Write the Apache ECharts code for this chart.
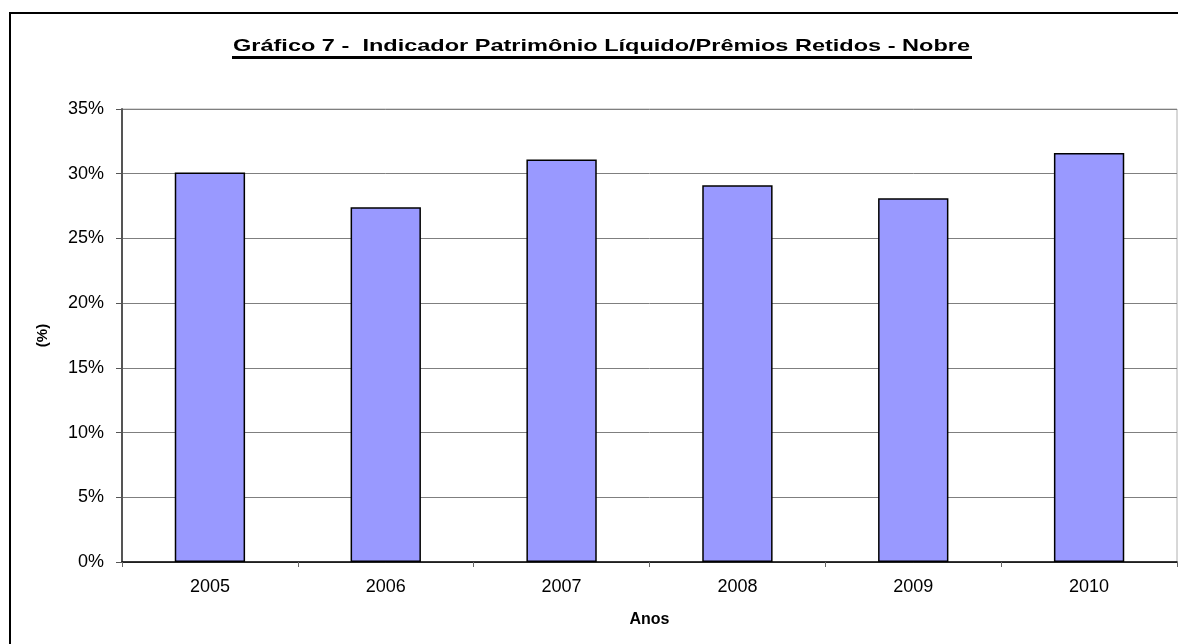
<!DOCTYPE html>
<html>
<head>
<meta charset="utf-8">
<script src="https://cdn.jsdelivr.net/npm/echarts@6/dist/echarts.min.js"></script>
<style>
html,body{margin:0;padding:0;background:#fff;}
#c{width:1178px;height:644px;}
</style>
</head>
<body>
<div id="c"></div>
<script>
var categories = ['2005','2006','2007','2008','2009','2010'];
var values = [30.1, 27.4, 31.1, 29.1, 28.1, 31.6];
var yTicks = [0,5,10,15,20,25,30,35];
var titleText = 'Gráfico 7 -  Indicador Patrimônio Líquido/Prêmios Retidos - Nobre';

var FONT = '"Liberation Sans", Arial, sans-serif';
var chart = echarts.init(document.getElementById('c'));

// measure title to stretch it to the reference width
var ctx = document.createElement('canvas').getContext('2d');
ctx.font = 'bold 17px ' + FONT;
var tw = ctx.measureText(titleText).width;
var sx = 737 / tw;

chart.setOption({
  animation: false,
  backgroundColor: '#fff',
  graphic: [
    { type: 'rect', shape: { x: 10, y: 13, width: 1200, height: 700 },
      style: { fill: 'none', stroke: '#000', lineWidth: 2 } },
    { type: 'text', x: 601.5, y: 46, scaleX: sx,
      style: { text: titleText, align: 'center', verticalAlign: 'middle',
               font: 'bold 17px ' + FONT, fill: '#000' } },
    { type: 'line', shape: { x1: 232, y1: 57.5, x2: 972, y2: 57.5 },
      style: { stroke: '#000', lineWidth: 3 } }
  ],
  grid: { left: 122, right: 1, top: 109, bottom: 82, show: true, borderColor: '#b0b0b0', borderWidth: 1 },
  xAxis: {
    type: 'category',
    data: categories,
    name: 'Anos',
    nameLocation: 'middle',
    nameGap: 50,
    nameTextStyle: { fontFamily: FONT, fontWeight: 'bold', fontSize: 16, color: '#000' },
    axisLine: { lineStyle: { color: '#000', width: 1.5 } },
    axisTick: { show: true, alignWithLabel: false, length: 5, lineStyle: { color: '#666' } },
    axisLabel: { fontFamily: FONT, fontSize: 18, color: '#000', margin: 16 }
  },
  yAxis: {
    type: 'value',
    min: 0, max: 35, interval: 5,
    name: '(%)',
    nameLocation: 'middle',
    nameGap: 72,
    nameRotate: 90,
    nameTextStyle: { fontFamily: FONT, fontWeight: 'bold', fontSize: 15, color: '#000' },
    axisLine: { show: true, lineStyle: { color: '#555', width: 2 } },
    axisTick: { show: true, inside: false, length: 6, lineStyle: { color: '#555' } },
    axisLabel: { fontFamily: FONT, fontSize: 18, color: '#000', margin: 18,
      formatter: function (v) { return yTicks.indexOf(v) >= 0 ? v + '%' : ''; } },
    splitLine: { show: true, lineStyle: { color: '#7f7f7f', width: 1 } }
  },
  series: [{
    type: 'bar',
    data: values,
    barCategoryGap: '60%',
    itemStyle: { color: '#9999FF', borderColor: '#000', borderWidth: 1.5 }
  }]
});
</script>
</body>
</html>
